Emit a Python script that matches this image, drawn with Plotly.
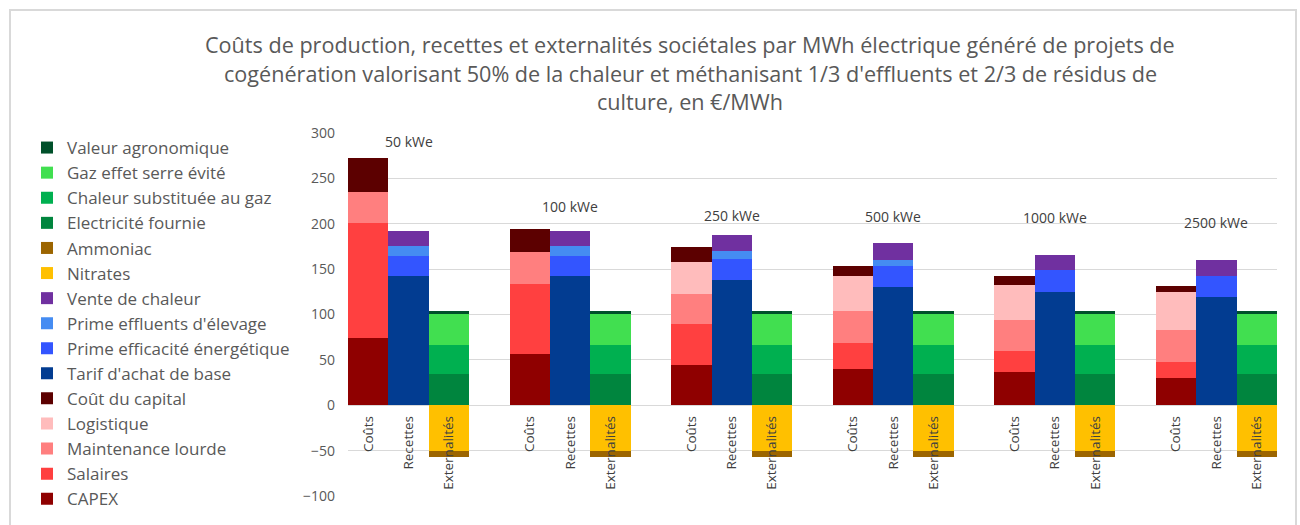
import plotly.graph_objects as go

# ---- data ----
groups = ["50 kWe", "100 kWe", "250 kWe", "500 kWe", "1000 kWe", "2500 kWe"]
bar_labels = ["Coûts", "Recettes", "Externalités"]

# Coûts
capex = [74, 57, 44, 40, 37, 30]
salaires = [127, 77, 45, 29, 23, 18]
maintenance = [34, 35, 34, 35, 34, 35]
logistique = [0, 0, 35, 38, 39, 42]
cout_capital = [38, 25, 16, 12, 9, 6]

# Recettes
tarif = [142, 142, 138, 130, 125, 119]
prime_efficacite = [23, 23, 23, 23, 23.5, 23]
prime_effluents = [10, 10, 9.5, 7.5, 0, 0]
vente_chaleur = [17.5, 17.5, 17.5, 18, 17.5, 18.5]

# Externalités
electricite = [34.5, 34.5, 34.5, 34.5, 34.5, 34.5]
chaleur_gaz = [31.5, 31.5, 31.5, 31.5, 31.5, 31.5]
ges_evite = [34.5, 34.5, 34.5, 34.5, 34.5, 34.5]
valeur_agro = [3.5, 3.5, 3.5, 3.5, 3.5, 3.5]
nitrates = [-50.5, -50.5, -50.5, -50.5, -50.5, -50.5]
ammoniac = [-6, -6, -6, -6, -6, -6]

# label heights for group names (annotation positions)
group_label_y = [291, 219, 209, 207.5, 206.5, 201.5]

title_lines = [
    "Coûts de production, recettes et externalités sociétales par MWh électrique généré de projets de",
    "cogénération valorisant 50% de la chaleur et méthanisant 1/3 d'effluents et 2/3 de résidus de",
    "culture, en €/MWh",
]

# ---- series definitions (stack order) ----
series = [
    ("CAPEX", capex, 0, "#8F0000"),
    ("Salaires", salaires, 0, "#FF4040"),
    ("Maintenance lourde", maintenance, 0, "#FF7F7F"),
    ("Logistique", logistique, 0, "#FFBCBC"),
    ("Coût du capital", cout_capital, 0, "#5C0000"),
    ("Tarif d'achat de base", tarif, 1, "#023C91"),
    ("Prime efficacité énergétique", prime_efficacite, 1, "#3355FF"),
    ("Prime effluents d'élevage", prime_effluents, 1, "#458CF2"),
    ("Vente de chaleur", vente_chaleur, 1, "#7030A0"),
    ("Nitrates", nitrates, 2, "#FFC000"),
    ("Ammoniac", ammoniac, 2, "#9C6500"),
    ("Electricité fournie", electricite, 2, "#00853E"),
    ("Chaleur substituée au gaz", chaleur_gaz, 2, "#00B050"),
    ("Gaz effet serre évité", ges_evite, 2, "#41DF50"),
    ("Valeur agronomique", valeur_agro, 2, "#00502A"),
]

SLOTS = 4  # 3 bars + 1 blank per group
N = len(series)
SPLIT = 8  # first 8 legend entries in legend, rest in legend2

fig = go.Figure()
for i, (name, vals, kind, color) in enumerate(series):
    xs = [g * SLOTS + kind for g in range(len(groups))]
    rank_from_top = N - 1 - i
    fig.add_trace(go.Bar(
        name=name, x=xs, y=vals,
        legend="legend" if rank_from_top < SPLIT else "legend2",
        legendrank=rank_from_top + 1,
        marker=dict(color=color, line=dict(width=0)),
        width=1.0,
        hovertemplate=name + ": %{y}<extra></extra>",
    ))

tickvals = [g * SLOTS + k for g in range(len(groups)) for k in range(3)]
ticktext = [bar_labels[k] for g in range(len(groups)) for k in range(3)]

# geometry (px)
L, R, T, B = 348, 23, 133, 29
W, H = 1300, 525
PW, PH = W - L - R, H - T - B
def px_x(px):
    return (px - L) / PW
def px_y(py):
    return (H - B - py) / PH

annotations = []
for g, lab in enumerate(groups):
    annotations.append(dict(
        x=g * SLOTS + 1, y=group_label_y[g], xref="x", yref="y",
        text=lab, showarrow=False, xanchor="center", yanchor="middle",
        font=dict(family="Open Sans", size=14, color="#404040"),
    ))
for i, line in enumerate(title_lines):
    annotations.append(dict(
        x=px_x(690), y=px_y(44 + 29 * i), xref="paper", yref="paper",
        text=line, showarrow=False, xanchor="center", yanchor="middle",
        font=dict(family="Open Sans", size=21.6, color="#595959"),
    ))

legend_style = dict(
    traceorder="normal", xanchor="left", yanchor="top",
    font=dict(family="Open Sans", size=17, color="#595959"),
    bgcolor="rgba(0,0,0,0)", itemclick=False, itemdoubleclick=False,
)

fig.update_layout(
    width=W, height=H,
    margin=dict(l=L, r=R, t=T, b=B, pad=0, autoexpand=False),
    paper_bgcolor="white", plot_bgcolor="white",
    barmode="relative", bargap=0,
    showlegend=True,
    legend=dict(x=px_x(27), y=px_y(130), **legend_style),
    legend2=dict(x=px_x(27), y=px_y(330.6), **legend_style),
    xaxis=dict(
        range=[-0.5, len(groups) * SLOTS - 1.5],
        tickmode="array", tickvals=tickvals, ticktext=ticktext,
        tickangle=-90, ticks="", showgrid=False, zeroline=False, showline=False,
        anchor="free", position=0.25,
        tickfont=dict(family="Open Sans", size=13.5, color="#404040"),
        ticklabelstandoff=7,
    ),
    yaxis=dict(
        range=[-100, 300], dtick=50, tick0=0,
        showgrid=True, gridcolor="#D9D9D9", gridwidth=1,
        zeroline=True, zerolinecolor="#D9D9D9", zerolinewidth=1,
        showline=False, ticks="",
        tickfont=dict(family="Open Sans", size=14, color="#595959"),
        ticklabelstandoff=12,
    ),
    annotations=annotations,
    shapes=[dict(
        type="rect", xref="paper", yref="paper",
        x0=px_x(10), x1=px_x(1296), y0=px_y(540), y1=px_y(10),
        line=dict(color="#D9D9D9", width=2), layer="below",
    )],
)

fig.write_html("out.html", config={"displayModeBar": False},
               post_script="document.body.style.margin='0px';")
